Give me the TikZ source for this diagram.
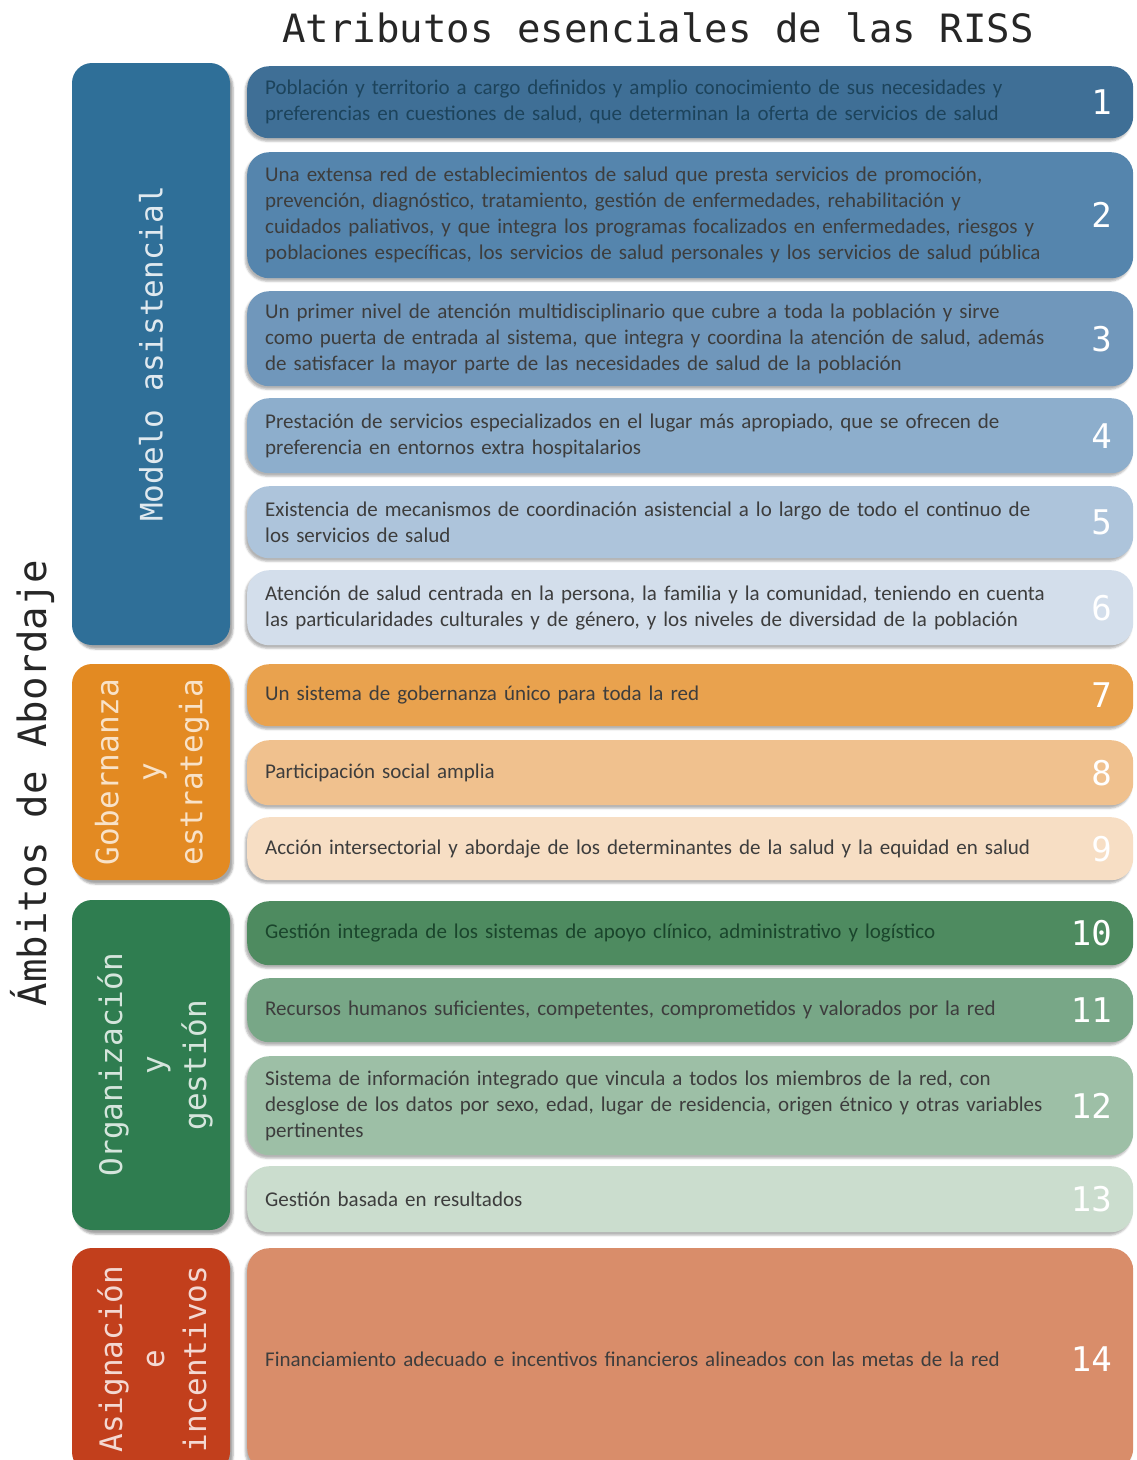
\documentclass[tikz,border=0pt]{standalone}
\usepackage{fontspec}
\setmainfont{Carlito}
\newfontfamily\monofont{DejaVu Sans Mono}
\usetikzlibrary{shadows.blur}

% colours of the four groups
\definecolor{modelo}{HTML}{2F6F98}
\definecolor{b1}{HTML}{3F6F96}
\definecolor{b2}{HTML}{5585AD}
\definecolor{b3}{HTML}{7097BB}
\definecolor{b4}{HTML}{8DAECC}
\definecolor{b5}{HTML}{ADC4DB}
\definecolor{b6}{HTML}{D3DEEB}
\definecolor{gob}{HTML}{E38A22}
\definecolor{o7}{HTML}{E9A24E}
\definecolor{o8}{HTML}{F0C18E}
\definecolor{o9}{HTML}{F7DEC4}
\definecolor{org}{HTML}{2F7D50}
\definecolor{g10}{HTML}{4E8B60}
\definecolor{g11}{HTML}{78A787}
\definecolor{g12}{HTML}{9DBFA6}
\definecolor{g13}{HTML}{CBDDCE}
\definecolor{asig}{HTML}{C23F1C}
\definecolor{r14}{HTML}{D98D6A}
\definecolor{txtgray}{HTML}{3D3D3D}

\tikzset{
  ambito/.style={rounded corners=20pt, blur shadow={shadow xshift=3pt, shadow yshift=-4pt, shadow opacity=35}},
  ambitolabel/.style={rotate=90, align=center, font=\monofont\fontsize{31}{42}\selectfont},
  attr/.style={anchor=north west, rounded corners=22pt, text width=850pt, inner xsep=18pt,
    align=left, text=txtgray, font=\fontsize{21}{26}\selectfont,
    blur shadow={shadow xshift=-2pt, shadow yshift=-3pt, shadow opacity=30}},
  num/.style={anchor=east, text=white, font=\monofont\fontsize{34}{34}\selectfont}
}

\begin{document}
\begin{tikzpicture}[x=1pt,y=-1pt]
\useasboundingbox (0,0) rectangle (1137,1460);

% titles
\node[font=\monofont\fontsize{39}{39}\selectfont, text=black!85] (titulo) at (658,28) {Atributos esenciales de las RISS};
\node[rotate=90, font=\monofont\fontsize{39}{39}\selectfont, text=black!85] (ambitos) at (32,783) {Ámbitos de Abordaje};

% left column
\fill[modelo, ambito] (72,63) rectangle (230,645);
\node[ambitolabel, text=modelo!15] (lmodelo) at (151,354) {Modelo asistencial};
\fill[gob, ambito] (72,664) rectangle (230,880);
\node[ambitolabel, text=gob!25] (lgob) at (152,772) {Gobernanza\\y\\estrategia};
\fill[org, ambito] (72,900) rectangle (230,1230);
\node[ambitolabel, text=org!20] (lorg) at (155,1065) {Organización\\y\\gestión};
\fill[asig, ambito] (72,1248) rectangle (230,1472);
\node[ambitolabel, text=asig!20] (lasig) at (152,1359) {Asignación\\e\\incentivos};

% attributes
\node[attr, fill=b1, minimum height=72pt, text=modelo!60!black] (a1) at (247,66) {Población y territorio a cargo definidos y amplio conocimiento de sus necesidades y\\preferencias en cuestiones de salud, que determinan la oferta de servicios de salud};
\node[num] (n1) at ([xshift=-18pt]a1.east) {1};
\node[attr, fill=b2, minimum height=126pt] (a2) at (247,152) {Una extensa red de establecimientos de salud que presta servicios de promoción,\\prevención, diagnóstico, tratamiento, gestión de enfermedades, rehabilitación y\\cuidados paliativos, y que integra los programas focalizados en enfermedades, riesgos y\\poblaciones específicas, los servicios de salud personales y los servicios de salud pública};
\node[num] (n2) at ([xshift=-18pt]a2.east) {2};
\node[attr, fill=b3, minimum height=95pt] (a3) at (247,291) {Un primer nivel de atención multidisciplinario que cubre a toda la población y sirve\\como puerta de entrada al sistema, que integra y coordina la atención de salud, además\\de satisfacer la mayor parte de las necesidades de salud de la población};
\node[num] (n3) at ([xshift=-18pt]a3.east) {3};
\node[attr, fill=b4, minimum height=75pt] (a4) at (247,398) {Prestación de servicios especializados en el lugar más apropiado, que se ofrecen de\\preferencia en entornos extra hospitalarios};
\node[num] (n4) at ([xshift=-18pt]a4.east) {4};
\node[attr, fill=b5, minimum height=72pt] (a5) at (247,486) {Existencia de mecanismos de coordinación asistencial a lo largo de todo el continuo de\\los servicios de salud};
\node[num] (n5) at ([xshift=-18pt]a5.east) {5};
\node[attr, fill=b6, minimum height=75pt] (a6) at (247,570) {Atención de salud centrada en la persona, la familia y la comunidad, teniendo en cuenta\\las particularidades culturales y de género, y los niveles de diversidad de la población};
\node[num] (n6) at ([xshift=-18pt]a6.east) {6};

\node[attr, fill=o7, minimum height=62pt] (a7) at (247,664) {Un sistema de gobernanza único para toda la red};
\node[num] (n7) at ([xshift=-18pt]a7.east) {7};
\node[attr, fill=o8, minimum height=65pt] (a8) at (247,740) {Participación social amplia};
\node[num] (n8) at ([xshift=-18pt]a8.east) {8};
\node[attr, fill=o9, minimum height=63pt] (a9) at (247,817) {Acción intersectorial y abordaje de los determinantes de la salud y la equidad en salud};
\node[num] (n9) at ([xshift=-18pt]a9.east) {9};

\node[attr, fill=g10, minimum height=64pt, text=org!55!black] (a10) at (247,901) {Gestión integrada de los sistemas de apoyo clínico, administrativo y logístico};
\node[num] (n10) at ([xshift=-18pt]a10.east) {10};
\node[attr, fill=g11, minimum height=64pt] (a11) at (247,978) {Recursos humanos suficientes, competentes, comprometidos y valorados por la red};
\node[num] (n11) at ([xshift=-18pt]a11.east) {11};
\node[attr, fill=g12, minimum height=99pt] (a12) at (247,1056) {Sistema de información integrado que vincula a todos los miembros de la red, con\\desglose de los datos por sexo, edad, lugar de residencia, origen étnico y otras variables\\pertinentes};
\node[num] (n12) at ([xshift=-18pt]a12.east) {12};
\node[attr, fill=g13, minimum height=66pt] (a13) at (247,1166) {Gestión basada en resultados};
\node[num] (n13) at ([xshift=-18pt]a13.east) {13};

\node[attr, fill=r14, minimum height=222pt] (a14) at (247,1248) {Financiamiento adecuado e incentivos financieros alineados con las metas de la red};
\node[num] (n14) at ([xshift=-18pt]a14.east) {14};
\end{tikzpicture}
\end{document}
